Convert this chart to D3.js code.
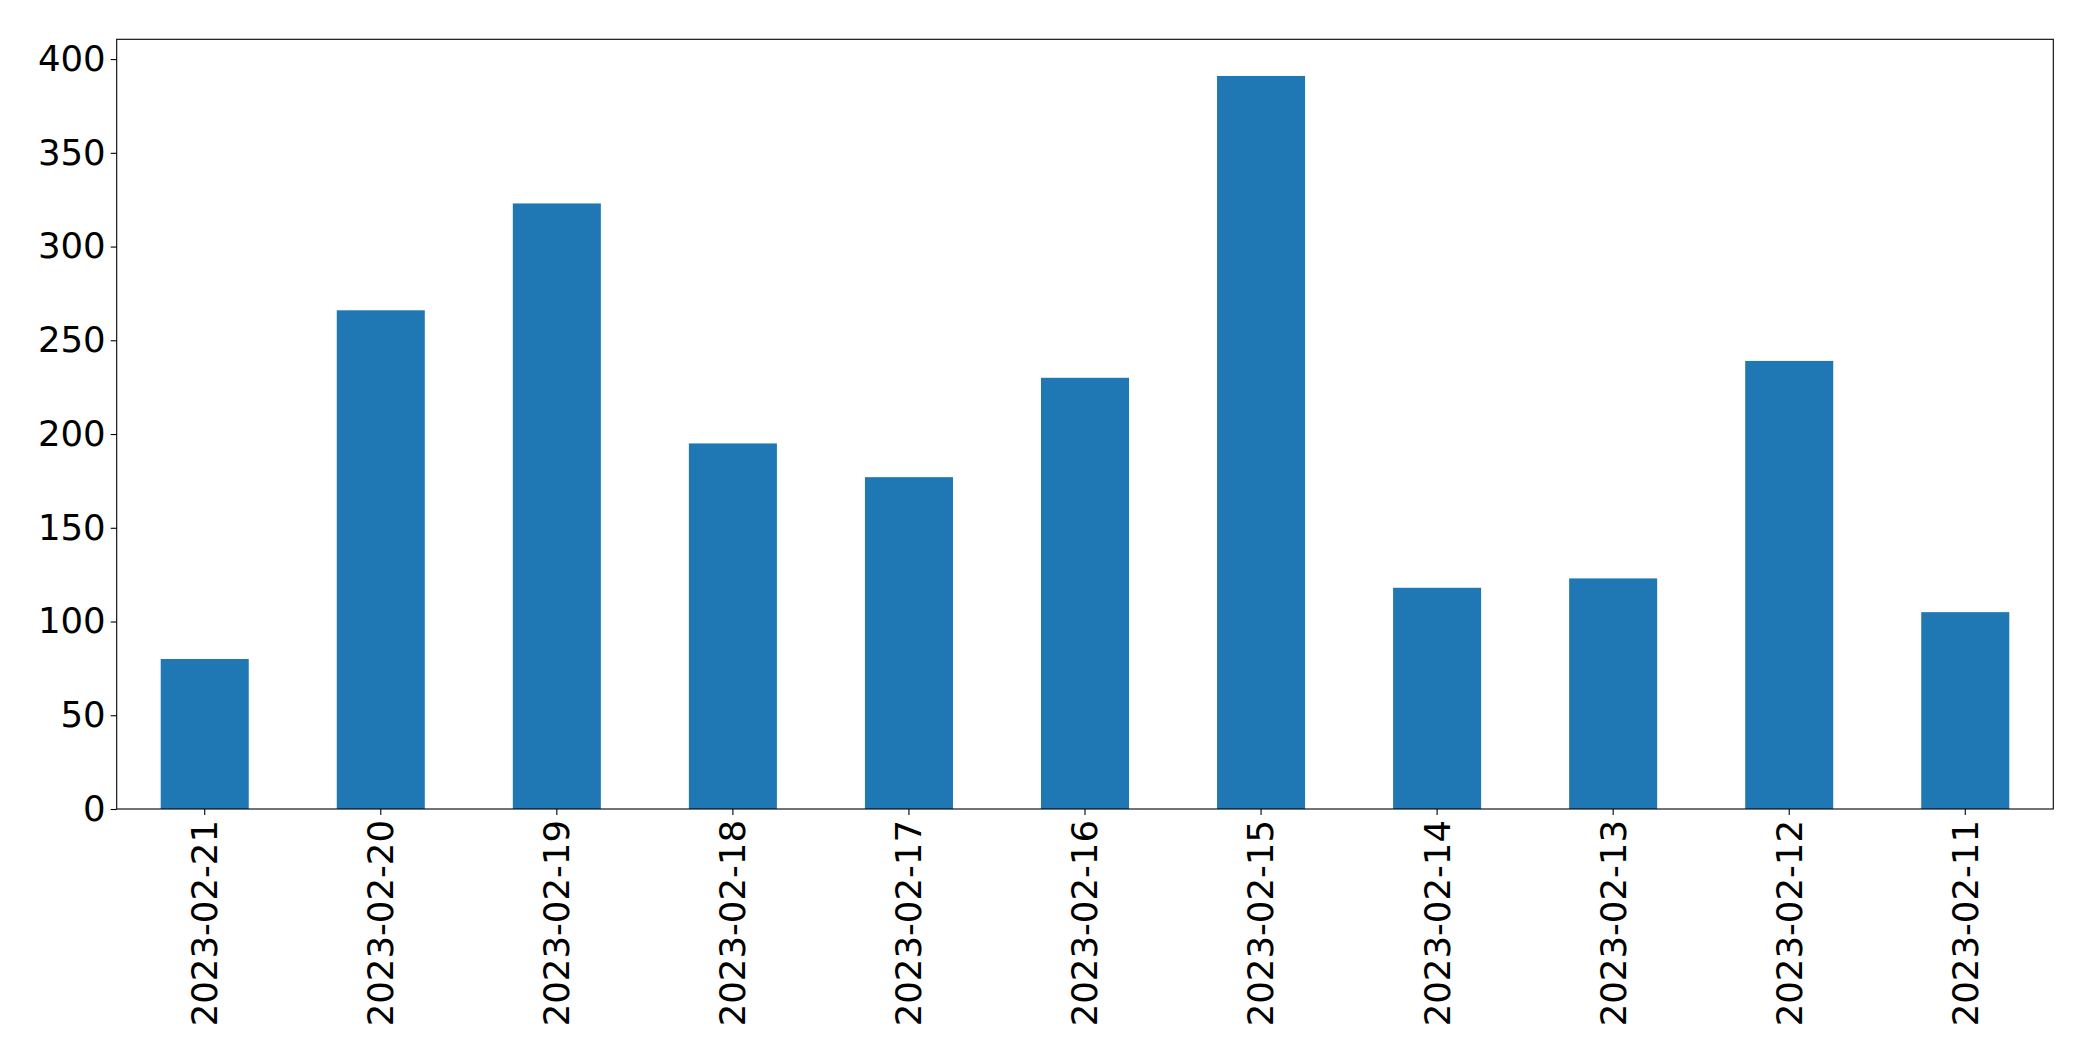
<!DOCTYPE html>
<html>
<head>
<meta charset="utf-8">
<script src="https://cdn.jsdelivr.net/npm/d3@7"></script>
<style>
  html, body { margin: 0; padding: 0; background: #fff; }
  svg { display: block; }
</style>
</head>
<body>
<svg id="chart" width="2093" height="1061"></svg>
<script>
const categories = ["2023-02-21","2023-02-20","2023-02-19","2023-02-18","2023-02-17","2023-02-16","2023-02-15","2023-02-14","2023-02-13","2023-02-12","2023-02-11"];
const values = [80, 266, 323, 195, 177, 230, 391, 118, 123, 239, 105];
const yTicks = [0, 50, 100, 150, 200, 250, 300, 350, 400];

const W = 2093, H = 1061;
const m = { left: 116.7, right: 2053.3, top: 39.3, bottom: 809 };
const svg = d3.select("#chart");
const font = "'DejaVu Sans', sans-serif";
const fs = 35.5;

const x = d3.scaleBand().domain(categories).range([m.left, m.right]).paddingInner(0.5).paddingOuter(0.25);
const yMax = d3.max(values) * 1.05;
const y = d3.scaleLinear().domain([0, yMax]).range([m.bottom, m.top]);

svg.append("g").selectAll("rect").data(values).join("rect")
  .attr("x", (d, i) => x(categories[i]))
  .attr("y", d => y(d))
  .attr("width", x.bandwidth())
  .attr("height", d => y(0) - y(d))
  .attr("fill", "#1f77b4");

// Y axis
const yAxis = d3.axisLeft(y).tickValues(yTicks).tickSize(6).tickPadding(5).tickFormat(d3.format("d"));
const gy = svg.append("g").attr("transform", `translate(${m.left},0)`).call(yAxis);
gy.select(".domain").remove();
gy.selectAll("line").attr("stroke", "#000").attr("stroke-width", 1.1);
gy.selectAll("text").attr("font-family", font).attr("font-size", fs).attr("fill", "#000");

// X axis
const xAxis = d3.axisBottom(x).tickSize(6).tickPadding(5);
const gx = svg.append("g").attr("transform", `translate(0,${m.bottom})`).call(xAxis);
gx.select(".domain").remove();
gx.selectAll("line").attr("stroke", "#000").attr("stroke-width", 1.1);
gx.selectAll("text")
  .attr("font-family", font).attr("font-size", fs).attr("fill", "#000")
  .attr("text-anchor", "end")
  .attr("transform", "rotate(-90)")
  .attr("x", -11)
  .attr("y", 0)
  .attr("dy", "0.35em");

// Frame
svg.append("rect")
  .attr("x", m.left).attr("y", m.top)
  .attr("width", m.right - m.left).attr("height", m.bottom - m.top)
  .attr("fill", "none").attr("stroke", "#000").attr("stroke-width", 1.1);
</script>
</body>
</html>
